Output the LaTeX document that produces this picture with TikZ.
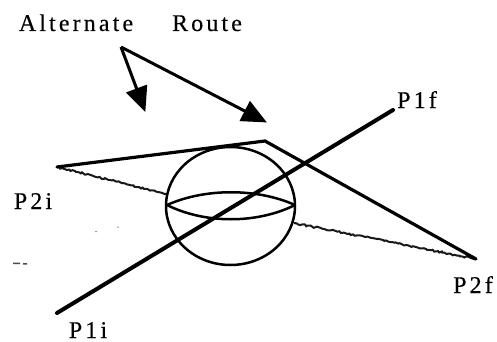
\documentclass[tikz,border=0pt]{standalone}
\usepackage{fontspec}
\setmainfont[LetterSpace=13,FakeBold=0.25]{Liberation Serif}
\usetikzlibrary{arrows.meta,decorations.pathmorphing}
\tikzset{
  lbl/.style={inner sep=0pt,anchor=base,font=\fontsize{24}{24}\selectfont},
  solidline/.style={line cap=round},
  thinline/.style={line width=2.5pt},
  rough/.style={line width=2pt,decorate,decoration={random steps,segment length=2pt,amplitude=.9pt},black!90},
  pointer/.style={line width=3pt,-{Triangle[length=25pt,width=22pt]},shorten >=-1pt}
}
\begin{document}
\begin{tikzpicture}[x=1pt,y=-1pt]
\useasboundingbox (0,0) rectangle (497,342);
\fill[white] (0,0) rectangle (497,342);
\node[lbl] (title1) at (76,31) {Alternate};
\node[lbl] (title2) at (207,31) {Route};
\node[lbl] (p2i) at (33,209) {P2i};
\node[lbl] (p1i) at (88,338) {P1i};
\node[lbl] (p1f) at (417,108) {P1f};
\node[lbl] (p2f) at (473,293) {P2f};
\coordinate (apex) at (121,47);
\coordinate (t1) at (145,111);
\coordinate (t2) at (266,122);
\coordinate (a) at (57,167);
\coordinate (b) at (265,141);
\coordinate (c) at (476,259);
\coordinate (d) at (57,313);
\coordinate (e) at (393,110);
\coordinate (sl) at (166,194);
\coordinate (sr) at (294,223);
\coordinate (el) at (167,205);
\coordinate (er) at (295,205);
\coordinate (cen) at (230.5,206);
\draw[pointer] (apex) -- (t1);
\draw[pointer] (apex) -- (t2);
\draw[thinline] (cen) ellipse [x radius=64.5,y radius=59];
\draw[thinline] (el) .. controls (205,188) and (257,188) .. (er);
\draw[thinline] (el) .. controls (205,224) and (257,224) .. (er);
\draw[rough] (a) -- (sl);
\draw[rough] (sr) -- (c);
\draw[solidline,line width=3.2pt] (a) -- (b) -- (c);
\draw[solidline,line width=4pt] (d) -- (e);
\fill[black!70] (13,262.5) rectangle (20,264) (23,263) rectangle (27,264.5);
\fill[black!40] (95,231) rectangle (97,232) (117,226.5) rectangle (119,227.5);
\end{tikzpicture}
\end{document}
